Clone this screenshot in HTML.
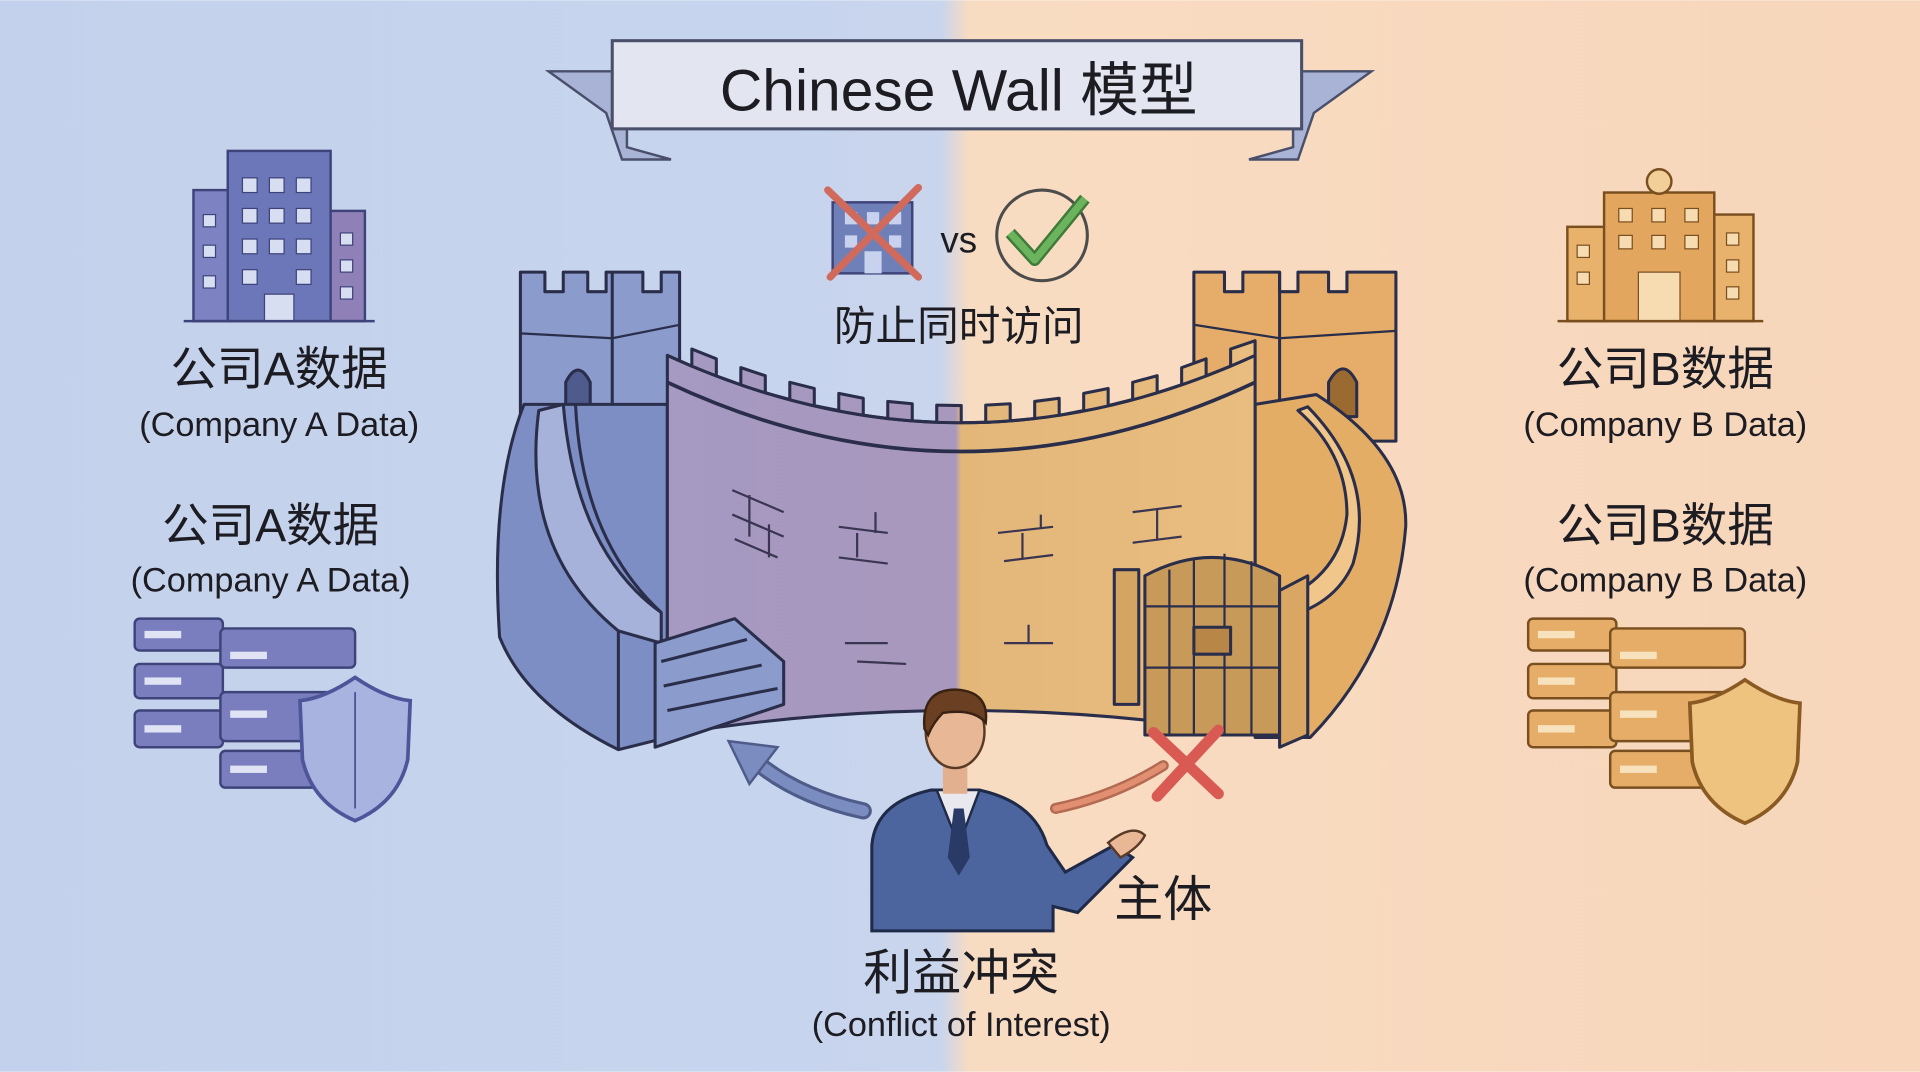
<!DOCTYPE html>
<html><head><meta charset="utf-8"><style>
html,body{margin:0;padding:0;width:1920px;height:1072px;overflow:hidden}
svg{display:block}
text{font-family:"Liberation Sans","Noto Sans CJK SC",sans-serif;fill:#1c1c22}
</style></head><body>
<svg width="1920" height="1072" viewBox="0 0 1568 875" xmlns="http://www.w3.org/2000/svg">
<defs>
<linearGradient id="bg" x1="0" x2="1" y1="0" y2="0">
<stop offset="0" stop-color="#c3d1ec"/><stop offset="0.49" stop-color="#c8d5ed"/>
<stop offset="0.505" stop-color="#f8dcc2"/><stop offset="1" stop-color="#f7d6bb"/></linearGradient>
<linearGradient id="wall" x1="545" x2="1025" gradientUnits="userSpaceOnUse"><stop offset="0" stop-color="#a699c2"/><stop offset="0.49" stop-color="#a898bd"/><stop offset="0.5" stop-color="#e3b77a"/><stop offset="1" stop-color="#e9bd7f"/></linearGradient>
</defs>
<rect width="1568" height="875" fill="url(#bg)"/>
<!-- banner -->
<polygon points="448,58 512,58 512,120 548,130 508,130 495,92" fill="#a9b3d6" stroke="#4a4f6a" stroke-width="2"/>
<polygon points="1120,58 1056,58 1056,120 1020,130 1060,130 1073,92" fill="#a9b3d6" stroke="#4a4f6a" stroke-width="2"/>
<rect x="500" y="33" width="563" height="72" fill="#e3e6f0" stroke="#4a4f6a" stroke-width="2.5"/>
<text x="783" y="90" font-size="48" text-anchor="middle">Chinese Wall 模型</text>
<!-- left building -->
<rect x="158" y="155" width="34" height="107" fill="#7d83c2" stroke="#3e447a" stroke-width="2"/>
<rect x="268" y="172" width="30" height="90" fill="#8f80b8" stroke="#3e447a" stroke-width="2"/>
<rect x="186" y="123" width="84" height="139" fill="#6b77b8" stroke="#3e447a" stroke-width="2"/>
<g fill="#d8def2" stroke="#3e447a" stroke-width="1">
<rect x="198" y="145" width="12" height="12"/><rect x="220" y="145" width="12" height="12"/><rect x="242" y="145" width="12" height="12"/>
<rect x="198" y="170" width="12" height="12"/><rect x="220" y="170" width="12" height="12"/><rect x="242" y="170" width="12" height="12"/>
<rect x="198" y="195" width="12" height="12"/><rect x="220" y="195" width="12" height="12"/><rect x="242" y="195" width="12" height="12"/>
<rect x="198" y="220" width="12" height="12"/><rect x="242" y="220" width="12" height="12"/>
<rect x="166" y="175" width="10" height="10"/><rect x="166" y="200" width="10" height="10"/><rect x="166" y="225" width="10" height="10"/>
<rect x="278" y="190" width="10" height="10"/><rect x="278" y="212" width="10" height="10"/><rect x="278" y="234" width="10" height="10"/>
<rect x="216" y="240" width="24" height="22"/></g>
<line x1="150" y1="262" x2="306" y2="262" stroke="#3e447a" stroke-width="2"/>
<!-- right building -->
<rect x="1280" y="185" width="34" height="77" fill="#e8b26c" stroke="#7a4f20" stroke-width="2"/>
<rect x="1398" y="175" width="34" height="87" fill="#e8b26c" stroke="#7a4f20" stroke-width="2"/>
<rect x="1310" y="157" width="90" height="105" fill="#e3a65f" stroke="#7a4f20" stroke-width="2"/>
<circle cx="1355" cy="148" r="10" fill="#f2cf98" stroke="#7a4f20" stroke-width="2"/>
<g fill="#f6dcb0" stroke="#7a4f20" stroke-width="1">
<rect x="1322" y="170" width="11" height="11"/><rect x="1349" y="170" width="11" height="11"/><rect x="1376" y="170" width="11" height="11"/>
<rect x="1322" y="192" width="11" height="11"/><rect x="1349" y="192" width="11" height="11"/><rect x="1376" y="192" width="11" height="11"/>
<rect x="1288" y="200" width="10" height="10"/><rect x="1288" y="222" width="10" height="10"/>
<rect x="1410" y="190" width="10" height="10"/><rect x="1410" y="212" width="10" height="10"/><rect x="1410" y="234" width="10" height="10"/>
<rect x="1338" y="222" width="34" height="40"/></g>
<line x1="1272" y1="262" x2="1440" y2="262" stroke="#7a4f20" stroke-width="2"/>
<!-- labels -->
<text x="228" y="314" font-size="38" text-anchor="middle">公司A数据</text>
<text x="228" y="356" font-size="28" text-anchor="middle">(Company A Data)</text>
<text x="221" y="442" font-size="38" text-anchor="middle">公司A数据</text>
<text x="221" y="483" font-size="28" text-anchor="middle">(Company A Data)</text>
<text x="1360" y="314" font-size="38" text-anchor="middle">公司B数据</text>
<text x="1360" y="356" font-size="28" text-anchor="middle">(Company B Data)</text>
<text x="1360" y="442" font-size="38" text-anchor="middle">公司B数据</text>
<text x="1360" y="483" font-size="28" text-anchor="middle">(Company B Data)</text>
<!-- servers left -->
<g fill="#7a7dbe" stroke="#3e447a" stroke-width="2">
<rect x="110" y="505" width="72" height="26" rx="4"/><rect x="110" y="542" width="72" height="28" rx="4"/><rect x="110" y="580" width="72" height="30" rx="4"/>
<rect x="180" y="513" width="110" height="32" rx="4"/><rect x="180" y="565" width="110" height="40" rx="4"/><rect x="180" y="613" width="110" height="30" rx="4"/></g>
<g fill="#dfe3f4"><rect x="118" y="515" width="30" height="6"/><rect x="118" y="553" width="30" height="6"/><rect x="118" y="592" width="30" height="6"/>
<rect x="188" y="532" width="30" height="6"/><rect x="188" y="580" width="30" height="6"/><rect x="188" y="625" width="30" height="6"/></g>
<path d="M290,553 Q265,570 245,572 L247,620 Q255,655 290,670 Q325,655 333,620 L335,572 Q315,570 290,553Z" fill="#a8b3df" stroke="#4e559a" stroke-width="3"/>
<path d="M290,565 L290,660" stroke="#4e559a" stroke-width="1.5"/>
<!-- servers right -->
<g fill="#e5ad68" stroke="#7a4f20" stroke-width="2">
<rect x="1248" y="505" width="72" height="26" rx="4"/><rect x="1248" y="542" width="72" height="28" rx="4"/><rect x="1248" y="580" width="72" height="30" rx="4"/>
<rect x="1315" y="513" width="110" height="32" rx="4"/><rect x="1315" y="565" width="110" height="40" rx="4"/><rect x="1315" y="613" width="110" height="30" rx="4"/></g>
<g fill="#f8e2bd"><rect x="1256" y="515" width="30" height="6"/><rect x="1256" y="553" width="30" height="6"/><rect x="1256" y="592" width="30" height="6"/>
<rect x="1323" y="532" width="30" height="6"/><rect x="1323" y="580" width="30" height="6"/><rect x="1323" y="625" width="30" height="6"/></g>
<path d="M1425,555 Q1400,572 1380,574 L1382,622 Q1390,657 1425,672 Q1460,657 1468,622 L1470,574 Q1450,572 1425,555Z" fill="#eec27f" stroke="#8a5a22" stroke-width="3"/>
<!-- vs icons -->
<rect x="680" y="165" width="65" height="58" fill="#6f80b8" stroke="#3e447a" stroke-width="2"/>
<g fill="#c8d2ee"><rect x="690" y="173" width="10" height="10"/><rect x="708" y="173" width="10" height="10"/><rect x="726" y="173" width="10" height="10"/><rect x="690" y="192" width="10" height="10"/><rect x="726" y="192" width="10" height="10"/><rect x="706" y="205" width="14" height="18"/></g>
<path d="M676,155 L750,226 M750,153 L678,226" stroke="#d06a5c" stroke-width="6" stroke-linecap="round"/>
<text x="783" y="206" font-size="30" text-anchor="middle">vs</text>
<circle cx="851" cy="192" r="37" fill="none" stroke="#4c4c4c" stroke-width="2.5"/>
<path d="M825,190 L845,212 L886,162" fill="none" stroke="#3f7a3a" stroke-width="10" stroke-linejoin="round"/>
<path d="M825,190 L845,212 L886,162" fill="none" stroke="#6bb35c" stroke-width="6" stroke-linejoin="round"/>
<text x="783" y="278" font-size="34" text-anchor="middle">防止同时访问</text>
<g stroke="#2a2e4a" stroke-width="2.5" stroke-linejoin="round">
<!-- left tower -->
<path d="M425,360 L425,222 L445,222 L445,238 L460,238 L460,222 L480,222 L480,238 L495,238 L495,222 L525,222 L525,238 L540,238 L540,222 L555,222 L555,360Z" fill="#8b9bcc"/>
<path d="M425,272 L500,276 L555,265" fill="none" stroke-width="1.8"/>
<path d="M500,222 L500,360" fill="none"/>
<path d="M462,340 L462,312 Q472,292 482,312 L482,340Z" fill="#4e5b8c"/>
<!-- right tower -->
<path d="M975,360 L975,222 L1000,222 L1000,238 L1015,238 L1015,222 L1045,222 L1045,238 L1060,238 L1060,222 L1085,222 L1085,238 L1100,238 L1100,222 L1140,222 L1140,360Z" fill="#e6ad6a"/>
<path d="M975,265 L1045,276 L1140,270" fill="none" stroke-width="1.8"/>
<path d="M1045,222 L1045,360" fill="none"/>
<path d="M1085,340 L1085,312 Q1097,290 1108,312 L1108,340Z" fill="#9a6a30"/>
<!-- left outer wall -->
<path d="M428,330 Q400,400 408,520 Q430,575 505,612 L545,602 L545,330Z" fill="#7d8ec4"/>
<path d="M440,335 Q425,450 505,515 L540,525 L540,500 Q470,450 460,330Z" fill="#a6b2da"/>
<path d="M470,330 Q475,440 540,500" fill="none"/>
<path d="M505,515 L505,612" fill="none"/>
<!-- right outer wall -->
<path d="M1025,330 L1075,322 Q1150,370 1148,430 Q1140,530 1070,602 L1025,602Z" fill="#e3ad66"/>
<path d="M1068,332 Q1125,390 1105,460 Q1090,495 1045,505 L1045,490 Q1095,470 1100,420 Q1100,370 1060,335Z" fill="#f0c68a"/>
<!-- main wall -->
<path d="M545,290 Q785,400 1025,290 L1025,600 Q785,560 545,600Z" fill="url(#wall)"/>
<path d="M545,290 L565,298.8 L565,284.8 L585,292.8 L585,306.8 L605,314 L605,300 L625,306.6 L625,320.6 L645,326 L645,312 L665,317 L665,331 L685,335 L685,321 L705,325 L705,339 L725,341.6 L725,327.6 L745,329.5 L745,343.5 L765,344.6 L765,330.6 L785,331 L785,345 L805,344.6 L805,330.6 L825,329.5 L825,343.5 L845,341.6 L845,327.6 L865,325 L865,339 L885,335 L885,321 L905,317 L905,331 L925,326 L925,312 L945,306.6 L945,320.6 L965,314 L965,300 L985,292.8 L985,306.8 L1005,298.8 L1005,284.8 L1025,278 L1025,290 Q785,400 545,290Z" fill="url(#wall)"/>
<path d="M545,312 Q785,425 1025,312" fill="none" stroke-width="3"/>
<!-- stairs -->
<path d="M535,525 L600,505 L640,540 L640,575 L535,610Z" fill="#8b9bcc"/>
<path d="M540,540 L610,522 M542,560 L622,543 M545,580 L635,562" fill="none"/>
<!-- gate -->
<path d="M935,470 Q990,440 1045,470 L1045,600 L935,600Z" fill="#c89a5a"/>
<path d="M955,465 L955,600 M975,456 L975,600 M1000,452 L1000,600 M1022,458 L1022,600 M935,495 L1045,495 M935,545 L1045,545" fill="none" stroke-width="1.8"/>
<rect x="975" y="512" width="30" height="22" fill="#b88748"/>
<path d="M910,465 L910,575 L930,575 L930,465Z" fill="#d4a463"/>
<path d="M1045,482 L1068,470 L1068,600 L1045,610Z" fill="#d9a763"/>
</g>
<!-- bricks -->
<g stroke="#3a3550" stroke-width="1.8" fill="none">
<path d="M598,400 L640,418 M598,420 L640,438 M600,440 L635,455 M612,404 L612,438 M628,428 L628,455"/>
<path d="M685,430 L725,435 M685,455 L725,460 M700,435 L700,455 M715,418 L715,435"/>
<path d="M815,435 L860,430 M820,458 L860,453 M835,435 L835,456 M850,420 L850,432"/>
<path d="M925,418 L965,413 M925,443 L965,438 M945,416 L945,440"/>
<path d="M690,525 L725,525 M700,540 L740,542 M820,525 L860,525 M840,510 L840,525"/>
</g>
<!-- arrows -->
<path d="M705,662 Q650,650 615,620" fill="none" stroke="#4f5c8a" stroke-width="14" stroke-linecap="round"/>
<path d="M705,662 Q650,650 615,620" fill="none" stroke="#7a8cc0" stroke-width="9" stroke-linecap="round"/>
<polygon points="595,605 635,610 612,640" fill="#7a8cc0" stroke="#4f5c8a" stroke-width="2"/>
<path d="M862,660 Q910,650 950,625" fill="none" stroke="#b26a50" stroke-width="9" stroke-linecap="round"/>
<path d="M862,660 Q910,650 950,625" fill="none" stroke="#e28e70" stroke-width="5" stroke-linecap="round"/>
<path d="M942,598 L995,648 M995,596 L945,650" stroke="#d85a52" stroke-width="9" stroke-linecap="round"/>
<!-- person -->
<path d="M712,760 L712,690 Q715,655 760,645 L800,645 Q845,655 855,690 L870,712 L910,690 L925,700 L880,745 L860,740 L860,760Z" fill="#4d659f" stroke="#1e2a48" stroke-width="2.5"/>
<path d="M765,645 L783,690 L800,645Z" fill="#e8e8ee" stroke="#1e2a48" stroke-width="2"/>
<path d="M779,660 L774,700 L783,715 L792,700 L787,660Z" fill="#2a3a66"/>
<path d="M905,688 Q925,672 935,682 Q930,692 915,700Z" fill="#e8b896" stroke="#5a3a26" stroke-width="2"/>
<rect x="770" y="620" width="20" height="28" fill="#e2b08e"/>
<ellipse cx="780" cy="597" rx="24" ry="30" fill="#e8b896" stroke="#5a3a26" stroke-width="2"/>
<path d="M755,595 Q752,562 782,563 Q808,565 805,590 Q795,578 770,582 Q762,590 758,600Z" fill="#6a3f22" stroke="#3a2212" stroke-width="2"/>
<text x="950" y="748" font-size="40" text-anchor="middle">主体</text>
<text x="785" y="808" font-size="40" text-anchor="middle">利益冲突</text>
<text x="785" y="846" font-size="28" text-anchor="middle">(Conflict of Interest)</text>
</svg>
</body></html>
